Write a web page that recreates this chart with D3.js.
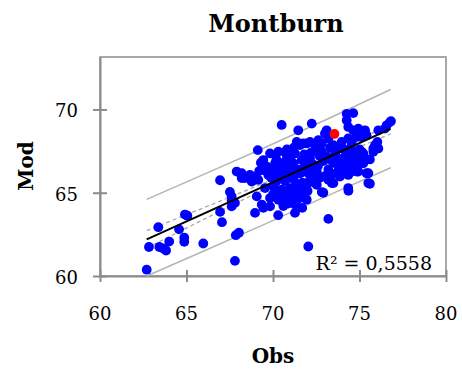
<!DOCTYPE html>
<html>
<head>
<meta charset="utf-8">
<script src="https://cdn.jsdelivr.net/npm/d3@7/dist/d3.min.js"></script>
<style>
  body { margin: 0; background: #fff; }
  text { font-family: "DejaVu Serif", serif; }
</style>
</head>
<body>
<div id="graph"></div>
<script>
// Observed vs modelled values (blue)
var obsX = [62.7, 62.83, 63.37, 63.43, 63.66, 63.82, 64.0, 64.57, 64.91, 65.05, 64.87, 64.87, 65.97,
  66.94, 66.94, 67.05, 67.51, 67.61, 67.61, 67.8, 67.61, 67.85, 68.03, 67.8, 67.9, 68.19, 68.19, 68.38,
  68.86, 68.96, 68.96, 69.06, 69.12, 69.44, 69.83, 69.35, 70.3, 71.27, 71.69, 71.27, 70.5, 71.46, 72.04,
  72.24, 73.2, 72.91, 74.36, 75.6, 75.51, 74.26, 74.64, 74.26, 76.82,
  73.1, 73.0, 74.35, 74.64, 74.93, 75.32, 75.12, 75.41, 76.09, 76.47, 76.76, 76.57,
  75.9, 76.09, 75.8, 76.03, 75.8, 74.35, 74.55, 74.84, 72.62, 72.82, 73.2, 73.49, 73.97, 73.78,
  75.12, 75.32, 75.22, 75.03, 74.64, 74.74, 74.55, 74.93, 75.41, 75.51, 72.82, 73.2, 73.4, 73.87,
  74.16, 74.35, 74.35, 74.06, 74.26, 75.12, 74.74, 74.55, 74.74, 75.22, 74.84, 73.49, 73.29, 74.35,
  71.37, 71.75, 72.14, 72.43, 69.83, 70.31, 70.79, 71.27, 71.56, 71.95, 72.43,
  69.44, 69.64, 70.12, 70.69, 71.17, 71.66, 72.14, 68.67, 68.77, 69.15,
  69.73, 70.21, 70.6, 71.08, 71.56, 72.04, 72.53, 69.54, 70.02, 70.5, 70.98, 71.46, 71.95, 72.43,
  69.83, 70.31, 70.88, 71.27, 71.75, 71.95, 70.5, 70.88, 71.46, 71.85, 70.79, 71.08, 70.31, 70.5,
  71.17, 71.46, 71.85, 72.14, 72.62, 72.53,
  72.6, 72.9, 73.2, 73.5, 73.8, 73.1, 73.6, 72.8, 73.3, 74.0, 73.0, 72.7, 73.4, 72.3, 72.2, 71.8,
  71.4, 70.9, 70.4, 70.0, 69.6, 70.2, 70.7, 71.2, 71.7, 70.0, 70.6, 71.3, 70.2, 70.8, 71.2, 71.8,
  72.2, 69.3, 69.2,
  70.4, 70.9, 71.1, 71.6, 72.0, 72.4, 72.0, 71.5, 73.7, 73.9, 74.2, 73.3, 72.9, 72.5, 70.1, 69.9,
  70.6, 71.0, 71.9, 72.7, 73.6, 74.1, 74.5, 75.0, 75.6, 74.9, 70.6, 71.3];
var modY = [60.38, 61.74, 62.93, 61.74, 61.65, 61.53, 62.07, 62.8, 63.69, 63.62, 62.3, 62.05, 61.95,
  65.75, 63.85, 63.23, 65.05, 64.78, 64.55, 64.39, 64.18, 62.45, 62.6, 60.91, 66.27, 66.17, 65.88, 65.88,
  65.97, 65.77, 63.79, 64.78, 67.56, 64.09, 64.18, 64.29, 63.65, 63.79, 64.09, 64.29, 69.07, 68.75, 61.77,
  69.15, 63.43, 65.0, 65.12, 65.54, 66.17, 69.74, 69.78, 69.35, 69.3,
  68.75, 68.55, 68.95, 68.75, 68.85, 68.75, 68.35, 68.45, 68.75, 68.85, 69.24, 69.05,
  67.86, 67.66, 67.66, 68.05, 67.46, 68.26, 68.05, 68.35, 68.15, 67.96, 68.26, 67.86, 68.05, 67.76,
  67.26, 66.96, 67.36, 67.16, 67.07, 66.67, 66.27, 66.27, 66.17, 65.58, 65.04, 65.77, 65.58, 65.97,
  66.27, 66.07, 66.86, 67.07, 67.36, 67.46, 67.36, 66.57, 66.37, 66.77, 66.27, 65.58, 65.88, 65.28,
  68.05, 67.96, 68.05, 67.86, 67.36, 67.46, 67.26, 67.36, 67.86, 67.96, 67.56,
  66.96, 66.57, 66.77, 66.86, 66.77, 66.96, 67.07, 66.07, 65.67, 65.77,
  66.07, 65.97, 66.17, 66.07, 66.17, 66.17, 66.27, 65.28, 65.38, 65.18, 65.28, 65.38, 65.48, 65.58,
  64.68, 64.88, 64.78, 64.68, 64.74, 64.58, 64.48, 64.35, 64.63, 64.68, 64.39, 64.58, 64.58, 64.88,
  65.28, 65.18, 65.28, 65.77, 65.88, 65.48,
  66.6, 66.9, 66.4, 66.8, 66.5, 67.2, 67.3, 67.5, 67.7, 66.9, 66.0, 65.9, 66.1, 66.7, 65.9, 66.5,
  66.4, 66.5, 66.4, 66.3, 66.3, 65.7, 65.7, 65.8, 65.6, 64.9, 65.0, 65.0, 67.0, 67.6, 67.7, 67.3,
  67.4, 66.8, 66.3,
  65.1, 65.0, 66.3, 66.2, 66.4, 66.1, 65.1, 64.9, 66.2, 66.6, 66.7, 67.0, 67.2, 66.3, 65.6, 65.9,
  66.7, 67.0, 66.8, 67.2, 66.9, 67.6, 67.7, 67.6, 67.0, 66.6, 64.2, 64.4];

// Highlighted point (red)
var markX = [73.55];
var markY = [68.53];

// Trend line and bands
var bandX      = [62.7, 66, 69.5, 73, 76.8];
var fitY       = [62.2, 63.75, 65.4, 67.04, 68.83];
var upperPred  = [64.6, 66.1, 67.7, 69.35, 71.2];
var lowerPred  = [60.0, 61.5, 63.1, 64.75, 66.5];
var upperConf  = [62.72, 64.1, 65.58, 67.18, 69.13];
var lowerConf  = [61.68, 63.4, 65.22, 66.9, 68.53];

var xTicks = [60, 65, 70, 75, 80];
var yTicks = [60, 65, 70];
var r2Label = "R\u00b2 = 0,5558";

var width = 462, height = 369;
var plot = {left: 100, right: 446, top: 57, bottom: 276};

var svg = d3.select("#graph").append("svg")
    .attr("width", width)
    .attr("height", height);

var x = d3.scaleLinear().domain([60, 80]).range([plot.left, plot.right]);
var y = d3.scaleLinear().domain([60, 73.15]).range([plot.bottom, plot.top]);

// Frame
svg.append("rect")
    .attr("x", plot.left)
    .attr("y", plot.top)
    .attr("width", plot.right - plot.left)
    .attr("height", plot.bottom - plot.top)
    .style("fill", "none")
    .style("stroke", "#8c8c8c")
    .style("stroke-width", 1.5);

// Axes, ticks cross the line
var xAxis = svg.append("g")
    .attr("transform", "translate(0," + plot.bottom + ")")
    .call(d3.axisBottom(x).tickValues(xTicks).tickSizeInner(6).tickSizeOuter(0).tickFormat(""));
xAxis.selectAll(".tick line").attr("y1", -6);
var yAxis = svg.append("g")
    .attr("transform", "translate(" + plot.left + ",0)")
    .call(d3.axisLeft(y).tickValues(yTicks).tickSizeInner(7).tickSizeOuter(0).tickFormat(""));
yAxis.selectAll(".tick line").attr("x1", 7);
svg.selectAll(".domain, .tick line")
    .style("stroke", "#8c8c8c")
    .style("stroke-width", 2);

svg.append("g").selectAll("text")
    .data(xTicks).enter().append("text")
    .attr("x", function(d) { return x(d); })
    .attr("y", 320)
    .attr("text-anchor", "middle")
    .style("font-size", "18px")
    .text(function(d) { return d; });
svg.append("g").selectAll("text")
    .data(yTicks).enter().append("text")
    .attr("x", 78)
    .attr("y", function(d) { return y(d) + 8; })
    .attr("text-anchor", "end")
    .style("font-size", "18px")
    .text(function(d) { return d; });

// Bands
function band(vals) {
    return d3.line()
        .x(function(d, i) { return x(bandX[i]); })
        .y(function(d) { return y(d); })(vals);
}
[upperPred, lowerPred].forEach(function(vals) {
    svg.append("path").attr("d", band(vals))
        .style("fill", "none").style("stroke", "#b4b4b4").style("stroke-width", 1.5);
});
[upperConf, lowerConf].forEach(function(vals) {
    svg.append("path").attr("d", band(vals))
        .style("fill", "none").style("stroke", "#a8a8a8").style("stroke-width", 1.3)
        .style("stroke-dasharray", "4,3");
});

// Points
svg.append("g").selectAll("circle")
    .data(obsX).enter().append("circle")
    .attr("cx", function(d) { return x(d); })
    .attr("cy", function(d, i) { return y(modY[i]); })
    .attr("r", 4.9)
    .style("fill", "#0000ff");
svg.append("g").selectAll("circle")
    .data(markX).enter().append("circle")
    .attr("cx", function(d) { return x(d); })
    .attr("cy", function(d, i) { return y(markY[i]); })
    .attr("r", 4.9)
    .style("fill", "#ff0000");

// Trend line
svg.append("path").attr("d", band(fitY))
    .style("fill", "none").style("stroke", "#000").style("stroke-width", 2);

svg.append("text")
    .attr("x", 432)
    .attr("y", 270)
    .attr("text-anchor", "end")
    .style("font-size", "19px")
    .text(r2Label);

// Titles
svg.append("text")
    .attr("x", 276)
    .attr("y", 32)
    .attr("text-anchor", "middle")
    .style("font-size", "24px")
    .style("font-weight", "bold")
    .text("Montburn");
svg.append("text")
    .attr("x", 273)
    .attr("y", 363)
    .attr("text-anchor", "middle")
    .style("font-size", "20px")
    .style("font-weight", "bold")
    .text("Obs");
svg.append("text")
    .attr("transform", "translate(33,166) rotate(-90)")
    .attr("text-anchor", "middle")
    .style("font-size", "20px")
    .style("font-weight", "bold")
    .text("Mod");
</script>
</body>
</html>
